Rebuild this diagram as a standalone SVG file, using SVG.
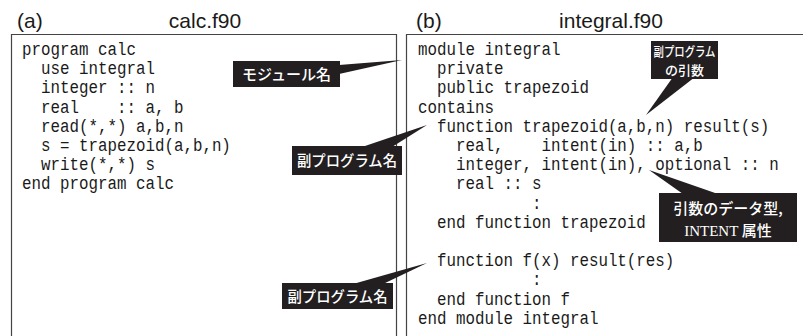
<svg xmlns="http://www.w3.org/2000/svg" width="803" height="336" viewBox="0 0 803 336">
<style>
.title{font-family:"Liberation Sans",Arial,sans-serif;font-size:21px;fill:#1a1a1a}
.code{font-family:"Liberation Mono","DejaVu Sans Mono",monospace;font-size:17.5px;fill:#1a1a1a;white-space:pre}
.frame{fill:none;stroke:#444;stroke-width:1.2}
.cbox{fill:#231f20}
.ctext{font-family:"Noto Sans CJK JP","Noto Sans",sans-serif;font-size:15px;font-weight:500;fill:#fff;text-anchor:middle}
.small{font-size:13px}
.serif{font-family:"Liberation Serif","Times New Roman",serif;font-weight:normal}
</style>
<rect width="803" height="336" fill="#fff"/>

<g id="panel-a">
  <text class="title" x="17" y="28">(a)</text>
  <text class="title" x="205" y="28" text-anchor="middle">calc.f90</text>
  <path class="frame" d="M11.5,340 V34.5 H396.5 V340"/>
  <g transform="translate(22 0) scale(0.905 1)">
    <text class="code" x="0" y="55">program calc</text>
    <text class="code" x="0" y="74.2">  use integral</text>
    <text class="code" x="0" y="93.4">  integer :: n</text>
    <text class="code" x="0" y="112.6">  real    :: a, b</text>
    <text class="code" x="0" y="131.8">  read(*,*) a,b,n</text>
    <text class="code" x="0" y="151">  s = trapezoid(a,b,n)</text>
    <text class="code" x="0" y="170.2">  write(*,*) s</text>
    <text class="code" x="0" y="189.4">end program calc</text>
  </g>
</g>

<g id="panel-b">
  <text class="title" x="416" y="28">(b)</text>
  <text class="title" x="611" y="28" text-anchor="middle">integral.f90</text>
  <path class="frame" d="M406.5,340 V34.5 H810"/>
  <g transform="translate(418 0) scale(0.905 1)">
    <text class="code" x="0" y="55">module integral</text>
    <text class="code" x="0" y="74.2">  private</text>
    <text class="code" x="0" y="93.4">  public trapezoid</text>
    <text class="code" x="0" y="112.6">contains</text>
    <text class="code" x="0" y="131.8">  function trapezoid(a,b,n) result(s)</text>
    <text class="code" x="0" y="151">    real,    intent(in) :: a,b</text>
    <text class="code" x="0" y="170.2">    integer, intent(in), optional :: n</text>
    <text class="code" x="0" y="189.4">    real :: s</text>
    <text class="code" x="0" y="208.6">            :</text>
    <text class="code" x="0" y="227.8">  end function trapezoid</text>
    <text class="code" x="0" y="266.2">  function f(x) result(res)</text>
    <text class="code" x="0" y="285.4">            :</text>
    <text class="code" x="0" y="304.6">  end function f</text>
    <text class="code" x="0" y="323.8">end module integral</text>
  </g>
</g>

<g id="connectors" class="cbox">
  <polygon points="339,65 402,60 339,74"/>
  <polygon points="362,147 427,125 392,147"/>
  <polygon points="353,284 427,263 383,284"/>
  <polygon points="673,77 646,115 695,77"/>
  <polygon points="683,194 649,170 718,194"/>
</g>

<g id="callout-module-name">
  <rect class="cbox" x="233" y="61" width="107" height="26"/>
  <text class="ctext" x="286.5" y="79.5">モジュール名</text>
</g>

<g id="callout-subprogram-name-1">
  <rect class="cbox" x="292" y="146" width="110" height="29"/>
  <text class="ctext" x="347" y="166" textLength="100" lengthAdjust="spacingAndGlyphs">副プログラム名</text>
</g>

<g id="callout-subprogram-name-2">
  <rect class="cbox" x="282" y="283" width="111" height="26"/>
  <text class="ctext" x="337.5" y="301.5" textLength="100" lengthAdjust="spacingAndGlyphs">副プログラム名</text>
</g>

<g id="callout-arguments">
  <rect class="cbox" x="651" y="41" width="67" height="38"/>
  <text class="ctext small" x="684.5" y="55.5" textLength="62" lengthAdjust="spacingAndGlyphs">副プログラム</text>
  <text class="ctext small" x="684.5" y="74.5">の引数</text>
</g>

<g id="callout-types">
  <rect class="cbox" x="659" y="193" width="138" height="49"/>
  <text class="ctext" x="728" y="214">引数のデータ型,</text>
  <text class="ctext" x="728" y="236"><tspan class="serif">INTENT</tspan> 属性</text>
</g>
</svg>
